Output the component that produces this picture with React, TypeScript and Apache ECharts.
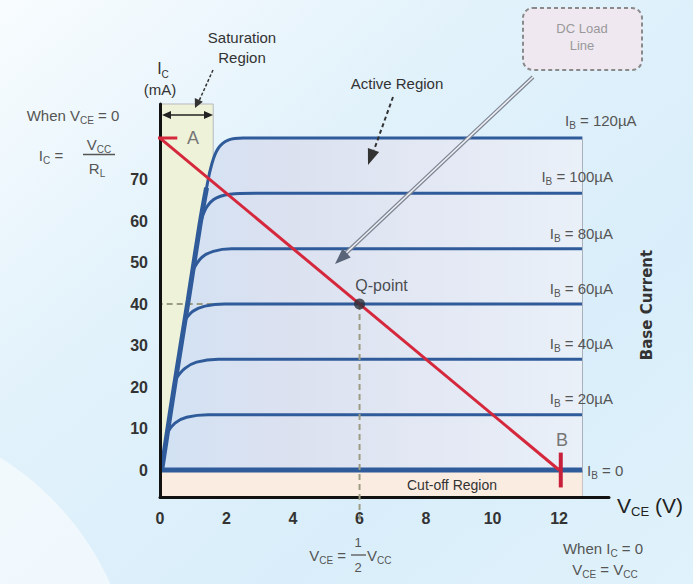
import { useEffect, useRef } from 'react';
import * as echarts from 'echarts';

// Transistor output characteristics: collector current Ic (mA) against Vce (V)
// for base-current steps, with the DC load line and Q-point.
const xTicks = [0, 2, 4, 6, 8, 10, 12];
const yTicks = [0, 10, 20, 30, 40, 50, 60, 70];

const ibNames = ['120µA', '100µA', '80µA', '60µA', '40µA', '20µA', '0'];

const curveIb120 = [[0.05, 0], [0.45, 21], [0.85, 41], [1.2, 59], [1.4, 68], [1.55, 73.5], [1.75, 77.5], [2.05, 79.5], [2.5, 80], [3.2, 80], [12.7, 80]];
const curveIb100 = [[1.2, 59], [1.4, 63.3], [1.7, 65.6], [2.25, 66.6], [3, 66.7], [12.7, 66.7]];
const curveIb80 = [[0.98, 48], [1.25, 51.2], [1.6, 52.7], [2.15, 53.3], [3, 53.3], [12.7, 53.3]];
const curveIb60 = [[0.74, 36], [1.0, 38.3], [1.35, 39.5], [1.95, 40], [3, 40], [12.7, 40]];
const curveIb40 = [[0.48, 22], [0.75, 24.5], [1.1, 26], [1.75, 26.7], [3, 26.7], [12.7, 26.7]];
const curveIb20 = [[0.22, 9], [0.45, 11.3], [0.8, 12.7], [1.45, 13.3], [3, 13.3], [12.7, 13.3]];
const curveIb0 = [[0, 0], [12.7, 0]];
const saturationEdge = [[0.05, 0], [0.45, 21], [0.85, 41], [1.2, 59], [1.4, 68]];

const loadLine = [[0, 80], [12, 0]];
const qPoint = [[6, 40]];
const pointA = [[-0.6, 80], [0.52, 80]];
const pointB = [[12.05, 4.2], [12.05, -4.2]];
const qGuideH = [[-0.4, 40], [6, 40]];
const qGuideV = [[6, 40], [6, -12]];

const saturationVce = 1.6;
const plotEndVce = 12.7;
const yMin = -6.5;
const yMax = 88.2;

const FONT = '"Liberation Sans", Arial, Helvetica, sans-serif';

function richSub(size: number, color: string, weight: string = 'normal') {
  const s = Math.round(size * 0.64);
  return {
    n: { fontSize: size, lineHeight: size + 6, fill: color, color, fontFamily: FONT, fontWeight: weight },
    s: { fontSize: s, lineHeight: s + 1, verticalAlign: 'bottom', fill: color, color, fontFamily: FONT, fontWeight: weight },
  };
}

function txt(x: number, y: number, text: string, size: number, color: string, align: string = 'center', extra: any = {}) {
  return {
    type: 'text',
    x,
    y,
    silent: true,
    z: 20,
    ...extra,
    style: {
      text,
      fill: color,
      align,
      textAlign: align,
      verticalAlign: 'middle',
      textVerticalAlign: 'middle',
      fontSize: size,
      fontFamily: FONT,
      rich: richSub(size, color),
    },
  };
}

function seg(x1: number, y1: number, x2: number, y2: number, stroke: string, lineWidth: number, lineDash?: number[]) {
  return {
    type: 'line',
    silent: true,
    z: 19,
    shape: { x1, y1, x2, y2 },
    style: { stroke, lineWidth, lineDash: lineDash || null },
  };
}

function head(points: number[][], fill: string) {
  return { type: 'polygon', silent: true, z: 19, shape: { points }, style: { fill } };
}

function curve(data: number[][], width: number, extra: any = {}) {
  return {
    type: 'line',
    data,
    symbol: 'none',
    smooth: 0.4,
    silent: true,
    z: 3,
    lineStyle: { color: '#2f5b9a', width },
    ...extra,
  };
}

export default function App() {
  const ref = useRef<HTMLDivElement>(null);

  useEffect(() => {
    if (!ref.current) return;
    const chart = echarts.init(ref.current, null, { renderer: 'svg' });

    const ibLabelColor = '#555';
    const ibRight = 613;
    const ibY = [120, 176, 233, 288, 343, 398, 470];

    const graphic: any[] = [
      // soft white swoosh in the lower-left corner
      { type: 'ellipse', silent: true, z: -5, shape: { cx: -150, cy: 700, rx: 285, ry: 285 }, style: { fill: 'rgba(255,255,255,0.55)' } },

      // axis title of Ic
      txt(163, 68, '{n|I}{s|C}', 16, '#333'),
      txt(160, 89, '(mA)', 15, '#333'),

      // saturation region callout
      txt(242, 37, 'Saturation', 15, '#333'),
      txt(242, 57, 'Region', 15, '#333'),
      seg(213, 70, 199, 101, '#333', 1.5, [3, 2]),
      head([[195, 108], [202.9, 101.8], [194.8, 98]], '#333'),
      seg(166, 115, 209, 115, '#222', 1.5),
      head([[162, 115], [171, 111], [171, 119]], '#222'),
      head([[213, 115], [204, 111], [204, 119]], '#222'),

      // active region callout
      txt(397, 83, 'Active Region', 15, '#333'),
      seg(393, 97, 374, 150, '#333', 2, [4, 3]),
      head([[368, 165], [379.1, 152.1], [367.9, 147.9]], '#333'),

      // DC load line callout
      { type: 'rect', silent: true, z: 18, shape: { x: 523, y: 8, width: 119, height: 62, r: 10 }, style: { fill: '#efe8f1', stroke: '#8a8a8a', lineWidth: 2, lineDash: [4, 3] } },
      txt(582, 28, 'DC Load', 13, '#999'),
      txt(582, 45, 'Line', 13, '#999'),
      seg(533, 77, 346, 253, '#7d8594', 4),
      seg(533, 77, 346, 253, '#eef0f4', 1.5),
      head([[335, 264], [350.7, 257.4], [342.5, 248.6]], '#5a6478'),

      // saturation current formula
      txt(73, 115, '{n|When V}{s|CE}{n| = 0}', 15, '#555'),
      txt(51, 155, '{n|I}{s|C}{n| =}', 15, '#555'),
      txt(99, 144, '{n|V}{s|CC}', 15, '#555'),
      seg(83, 154.5, 115, 154.5, '#555', 1.5),
      txt(97, 168, '{n|R}{s|L}', 15, '#555'),

      // operating points on the load line
      txt(193, 138, 'A', 18, '#777'),
      txt(562, 440, 'B', 18, '#777'),

      // cut-off region
      txt(452, 485, 'Cut-off Region', 14, '#333'),

      // Q-point voltage
      txt(346, 555, '{n|V}{s|CE}{n| =}', 15, '#555', 'right'),
      txt(358, 542, '1', 13, '#555'),
      seg(351, 555, 366, 555, '#555', 1.3),
      txt(358, 567, '2', 13, '#555'),
      txt(367, 555, '{n|V}{s|CC}', 15, '#555', 'left'),

      // cut-off voltage
      txt(603, 548, '{n|When I}{s|C}{n| = 0}', 15, '#555'),
      txt(605, 569, '{n|V}{s|CE}{n| = V}{s|CC}', 15, '#555'),

      // base current caption
      {
        type: 'text',
        x: 647,
        y: 305,
        rotation: Math.PI / 2,
        silent: true,
        z: 20,
        style: { text: 'Base Current', fill: '#333', align: 'center', textAlign: 'center', verticalAlign: 'middle', textVerticalAlign: 'middle', fontSize: 15, fontWeight: 'bold', fontFamily: '"DejaVu Sans", sans-serif' },
      },
    ];

    ibNames.forEach((name, i) => {
      const text = '{n|I}{s|B}{n| = ' + name + '}';
      if (i === 0) graphic.push(txt(565, ibY[i], text, 15, ibLabelColor, 'left'));
      else if (i === ibNames.length - 1) graphic.push(txt(587, ibY[i], text, 15, ibLabelColor, 'left'));
      else graphic.push(txt(ibRight, ibY[i], text, 15, ibLabelColor, 'right'));
    });

    const axisLabel = { color: '#333', fontSize: 16, fontWeight: 'bold', fontFamily: FONT };

    chart.setOption({
      animation: false,
      backgroundColor: new echarts.graphic.LinearGradient(0, 0, 1, 1, [
        { offset: 0, color: '#f8fcfe' },
        { offset: 0.35, color: '#e2f2fb' },
        { offset: 0.7, color: '#d9eefa' },
        { offset: 1, color: '#e0f2fb' },
      ]),
      grid: { left: 160, right: 84, top: 104, bottom: 87, containLabel: false, outerBoundsMode: 'none' },
      xAxis: {
        type: 'value',
        min: 0,
        max: 13.5,
        z: 4,
        axisLine: { onZero: false, lineStyle: { color: '#111', width: 3 } },
        axisTick: { show: false },
        splitLine: { show: false },
        axisLabel: { ...axisLabel, margin: 13, customValues: xTicks },
        name: '{n|V}{s|CE}{n| (V)}',
        nameLocation: 'end',
        nameGap: 8,
        nameTextStyle: {
          padding: [16, 0, 0, 0],
          rich: {
            n: { fontSize: 21, lineHeight: 26, color: '#222', fontFamily: FONT },
            s: { fontSize: 13, lineHeight: 13, verticalAlign: 'bottom', color: '#222', fontFamily: FONT },
          },
        },
      },
      yAxis: {
        type: 'value',
        min: yMin,
        max: yMax,
        z: 4,
        axisLine: { onZero: false, lineStyle: { color: '#111', width: 3 } },
        axisTick: { show: false },
        splitLine: { show: false },
        axisLabel: { ...axisLabel, margin: 12, customValues: yTicks },
      },
      graphic,
      series: [
        {
          type: 'line',
          data: [],
          silent: true,
          z: 1,
          markArea: {
            silent: true,
            data: [
              [
                { xAxis: 0, yAxis: 0, itemStyle: { color: '#eef2d8', borderColor: '#b5b9bd', borderWidth: 1 } },
                { xAxis: saturationVce, yAxis: yMax },
              ],
              [
                { xAxis: 0, yAxis: yMin, itemStyle: { color: '#fbece1', borderColor: '#c4c0bc', borderWidth: 1 } },
                { xAxis: plotEndVce, yAxis: 0 },
              ],
            ],
          },
          markLine: {
            silent: true,
            symbol: 'none',
            label: { show: false },
            lineStyle: { color: '#a9b0bc', width: 1, type: 'solid' },
            data: [[{ coord: [plotEndVce, 0] }, { coord: [plotEndVce, 80] }]],
          },
        },
        curve(curveIb120, 3, {
          z: 2,
          areaStyle: {
            opacity: 1,
            color: new echarts.graphic.LinearGradient(0, 0, 1, 0, [
              { offset: 0, color: '#d2e2f3' },
              { offset: 0.3, color: '#dce1f0' },
              { offset: 1, color: '#eaf0f8' },
            ]),
          },
        }),
        {
          type: 'line',
          data: qGuideH,
          symbol: 'none',
          clip: false,
          silent: true,
          z: 2,
          lineStyle: { color: '#9c9c84', width: 2, type: [6, 4] },
        },
        curve(curveIb100, 3),
        curve(curveIb80, 3),
        curve(curveIb60, 3),
        curve(curveIb40, 3),
        curve(curveIb20, 3),
        curve(curveIb0, 5, { smooth: false }),
        curve(saturationEdge, 5),
        {
          type: 'line',
          data: qGuideV,
          symbol: 'none',
          clip: false,
          silent: true,
          z: 6,
          lineStyle: { color: '#9c9c84', width: 2, type: [6, 4] },
        },
        {
          type: 'line',
          data: loadLine,
          symbol: 'none',
          silent: true,
          z: 7,
          lineStyle: { color: '#d5283c', width: 3 },
        },
        {
          type: 'line',
          data: pointA,
          symbol: 'none',
          clip: false,
          silent: true,
          z: 7,
          lineStyle: { color: '#d5283c', width: 3 },
        },
        {
          type: 'line',
          data: pointB,
          symbol: 'none',
          clip: false,
          silent: true,
          z: 7,
          lineStyle: { color: '#c8203a', width: 4 },
        },
        {
          type: 'scatter',
          data: qPoint,
          symbolSize: 11,
          silent: true,
          z: 8,
          itemStyle: { color: '#2b2f3b' },
          label: {
            show: true,
            formatter: 'Q-point',
            position: 'top',
            offset: [22, 0],
            fontSize: 16,
            color: '#222',
            fontFamily: FONT,
          },
        },
      ],
    });

    return () => chart.dispose();
  }, []);

  return (
    <div
      ref={ref}
      style={{ position: 'fixed', left: 0, top: 0, width: 693, height: 584 }}
    />
  );
}
